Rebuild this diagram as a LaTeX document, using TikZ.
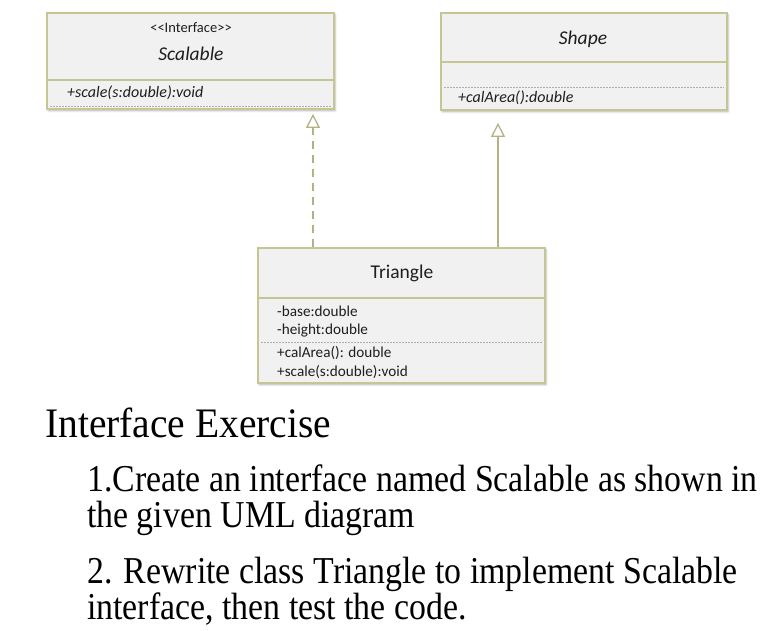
\documentclass[tikz,border=0pt]{standalone}
\usepackage{fontspec}
\setmainfont{Liberation Serif}
\newfontfamily\umlfont{Carlito}
\newfontfamily\titleserif[FakeStretch=0.94]{Liberation Serif}
\newfontfamily\itemserif[FakeStretch=0.89]{Liberation Serif}
\usetikzlibrary{arrows.meta,positioning,shadows.blur,calc}
\definecolor{umlBorder}{RGB}{198,198,148}
\definecolor{umlFill}{RGB}{241,241,241}
\definecolor{umlDots}{RGB}{176,176,160}
\definecolor{umlInk}{RGB}{30,30,30}

\begin{document}
\begin{tikzpicture}[x=1pt,y=-1pt,
  cls/.style={draw=umlBorder,fill=umlFill,line width=1.8pt,inner sep=0pt,
              blur shadow={shadow xshift=1.2pt,shadow yshift=-1.8pt,
                           shadow opacity=30,shadow blur steps=4}},
  sep/.style={draw=umlBorder,line width=1.8pt},
  dots/.style={draw=umlDots,line width=0.9pt,dash pattern=on 1.5pt off 1.5pt},
  stereo/.style={font=\umlfont\fontsize{14.5}{16}\selectfont,text=umlInk,anchor=base,inner sep=0pt},
  clsname/.style={font=\umlfont\fontsize{19.5}{22}\selectfont,text=umlInk,anchor=base,inner sep=0pt},
  member/.style={font=\umlfont\fontsize{15.2}{18}\selectfont,text=umlInk,anchor=base west,inner sep=0pt},
  opit/.style={member,font=\umlfont\itshape\fontsize{16}{18}\selectfont},
  line/.style={anchor=base west,inner sep=0pt},
  itemline/.style={line,font=\itemserif\fontsize{38}{42}\selectfont},
  real/.style={-{Triangle[open,length=14pt,width=14pt]},draw=umlBorder!90!black,
               line width=1.3pt,dash pattern=on 8pt off 6pt},
  inh/.style={-{Triangle[open,length=14pt,width=14pt]},draw=umlBorder!90!black,
              line width=1.3pt}]
\useasboundingbox (0,0) rectangle (777,630);

% class boxes
\node[cls,minimum width=287pt,minimum height=96pt] (scalable) at (190.5,61) {};
\node[cls,minimum width=286pt,minimum height=97pt] (shape) at (584,61.5) {};
\node[cls,minimum width=287pt,minimum height=135pt] (triangle) at (401.5,315.5) {};

% compartments
\draw[sep] (scalable.west |- 0,80) -- (scalable.east |- 0,80);
\draw[dots] (50,106) -- (331,106);
\draw[sep] (shape.west |- 0,62) -- (shape.east |- 0,62);
\draw[dots] (444,87) -- (724,87);
\draw[sep] (triangle.west |- 0,298) -- (triangle.east |- 0,298);
\draw[dots] (261,342) -- (542,342);

% texts of the classes
\node[stereo] (scalableStereo) at (191,32.7) {<<Interface>>};
\node[clsname] (scalableName) at (191,60.7) {\itshape Scalable};
\node[opit] (scalableOp) at (67,97.7) {+scale(s:double):void};
\node[clsname] (shapeName) at (583,44) {\itshape Shape};
\node[opit] (shapeOp) at (458,102.7) {+calArea():double};
\node[clsname] (triangleName) at (402,278) {Triangle};
\node[member] (triBase) at (277,316) {-base:double};
\node[member] (triHeight) at (277,334) {-height:double};
\node[member] (triArea) at (277,357.7) {+calArea(): double};
\node[member] (triScale) at (277,376.7) {+scale(s:double):void};

% relations
\coordinate (realX) at (313,0);
\coordinate (inhX) at (498,0);
\draw[real,shorten >=4pt] (realX |- triangle.north) -- (realX |- scalable.south);
\draw[inh,shorten >=12pt] (inhX |- triangle.north) -- (inhX |- shape.south);

% exercise text
\node[line,font=\titleserif\fontsize{42}{46}\selectfont] (title) at (45,437.7) {Interface Exercise};
\node[itemline,text depth=0pt] (itemOneA) at (87,491.7)
  {1.Create an interface named Scalable as shown in};
\node[itemline,text height=24pt] (itemOneB) at (87,527)
  {the given UML diagram};
\node[itemline] (itemTwoA) at (87,583)
  {2. Rewrite class Triangle to implement Scalable};
\node[itemline] (itemTwoB) at (87,619)
  {interface, then test the code.};
\end{tikzpicture}
\end{document}
